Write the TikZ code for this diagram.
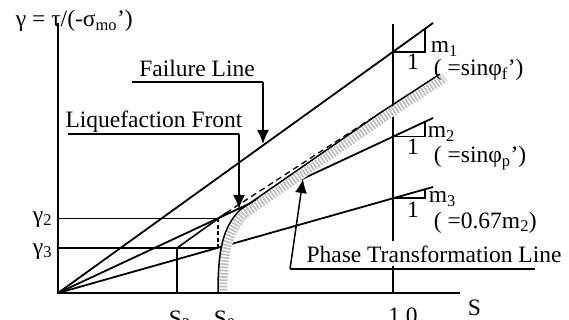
\documentclass[tikz,border=0pt]{standalone}
\usepackage{fontspec}
\setmainfont{Liberation Serif}
\usetikzlibrary{arrows.meta}
\begin{document}
\begin{tikzpicture}[x=1pt,y=-1pt, line width=1.8pt,
  lbl/.style={font=\fontsize{23.5}{28}\selectfont, inner sep=0pt},
  thin/.style={line width=1.6pt},
  pointer/.style={line width=1.5pt, -{Latex[length=14pt,width=12pt]}},
  bandwhite/.style={white, line width=9pt},
  bandgrey/.style={gray!50, line width=9pt, dash pattern=on 1.7pt off 1.5pt},
  ptpath/.style={},
  ]
\useasboundingbox (0,0) rectangle (569,320);
% key points
\coordinate (O) at (58,293);
\coordinate (ytop) at (58,23);
\coordinate (xend) at (460,293);
\coordinate (vtop) at (393,24);
\coordinate (vbot) at (393,293);
\coordinate (F) at (433,23);
\coordinate (M2) at (433,118);
\coordinate (M3) at (433,187);
\coordinate (g2a) at (58,218.3);
\coordinate (g2b) at (218,218.3);
\coordinate (g3a) at (58,248);
\coordinate (g3b) at (218,248);
\coordinate (s2b) at (177,293);
\coordinate (s2t) at (177,248);
\coordinate (lfa) at (226,213);
\coordinate (lfb) at (380,113);
% radial lines
\draw (O) -- (F);
\draw (O) -- (M2);
\draw (O) -- (M3);
% S = 1.0 line
\draw (vtop) -- (vbot);
% slope triangles
\draw[thin] (393,51.8) -- (425,51.8) -- (425,28.8);
\draw[thin] (393,136.7) -- (425,136.7) -- (425,121.7);
\draw[thin] (393,198.3) -- (425,198.3) -- (425,189.3);
% gamma levels
\draw[thin] (g2a) -- (g2b);
\draw[thin] (g3a) -- (g3b);
\draw[line width=1.1pt, dash pattern=on 4pt off 2.5pt] (g2b) -- (g3b);
\draw[thin] (s2b) -- (s2t);
\draw[thin] (s2t) -- (lfa);
\draw[line width=1.3pt, dash pattern=on 6pt off 4pt] (lfa) -- (lfb);
% phase transformation band
\begin{scope}[shift={(4.8,3.8)}]
\draw[bandwhite] (218,290) .. controls (218,252) and (222,228) .. (240,210) -- (380,113) -- (440,74);
\draw[bandgrey] (218,290) .. controls (218,252) and (222,228) .. (240,210) -- (380,113) -- (440,74);
\end{scope}
\draw[line width=1.5pt] (218,293) .. controls (218,252) and (222,228) .. (240,210) -- (380,113) -- (440,74);
% axes
\draw[line width=2pt] (ytop) -- (O) -- (xend);
% pointer labels
\node[lbl, anchor=base] (flt) at (197,77) {Failure Line};
\coordinate (fl1) at (132,82);
\coordinate (fl2) at (263,82);
\coordinate (flt2) at (263,144);
\draw[thin] (fl1) -- (fl2);
\draw[pointer] (fl2) -- (flt2);
\node[lbl, anchor=base] (lft) at (154,128) {Liquefaction Front};
\coordinate (lf1) at (68,134);
\coordinate (lf2) at (239,134);
\coordinate (lft2) at (239,209);
\draw[thin] (lf1) -- (lf2);
\draw[pointer] (lf2) -- (lft2);
\node[lbl, anchor=base, fill=white, inner xsep=1pt, inner ysep=4pt] (ptt) at (434,262) {Phase Transformation Line};
\coordinate (pt1) at (535,269);
\coordinate (pt2) at (290,269);
\coordinate (pt3) at (303,179);
\draw[thin] (pt1) -- (pt2);
\draw[pointer] (pt2) -- (pt3);
% slope labels
\node[lbl, anchor=base west] (m1) at (430,53) {m\textsubscript{1}};
\node[lbl, anchor=base] (one1) at (413,70) {1};
\node[lbl, anchor=base west] (p1) at (433,76) {( =sinφ\textsubscript{f}’)};
\node[lbl, anchor=base west] (m2) at (427,138) {m\textsubscript{2}};
\node[lbl, anchor=base] (one2) at (413,155) {1};
\node[lbl, anchor=base west] (p2) at (433,163) {( =sinφ\textsubscript{p}’)};
\node[lbl, anchor=base west] (m3) at (428,203) {m\textsubscript{3}};
\node[lbl, anchor=base] (one3) at (413,217) {1};
\node[lbl, anchor=base west] (p3) at (433,228) {( =0.67m\textsubscript{2})};
% axis labels
\node[lbl, anchor=base west] (ylab) at (15,27) {γ = τ/(-σ\textsubscript{mo}’)};
\node[lbl, anchor=base east] (g2) at (53,222) {γ\textsubscript{2}};
\node[lbl, anchor=base east] (g3) at (53,254) {γ\textsubscript{3}};
\node[lbl, anchor=base west] (S2) at (168,326) {S\textsubscript{2}};
\node[lbl, anchor=base west] (S0) at (213,326) {S\textsubscript{0}};
\node[lbl, anchor=base] (one) at (403,323) {1.0};
\node[lbl, anchor=base west] (S) at (467,315) {S};
\end{tikzpicture}
\end{document}
